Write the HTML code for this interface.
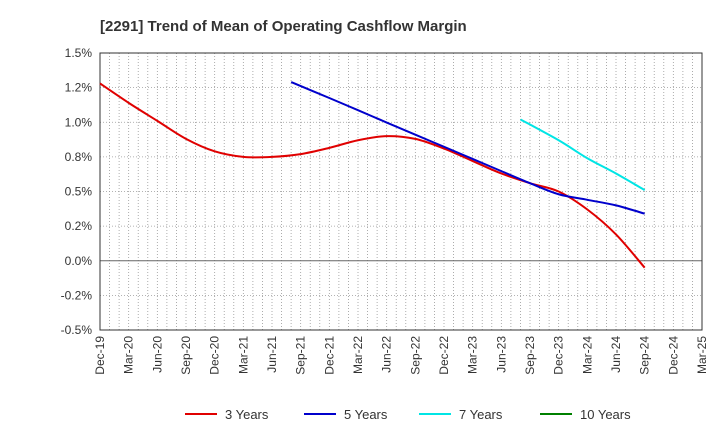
<!DOCTYPE html>
<html><head><meta charset="utf-8"><style>
body{margin:0;background:#fff;font-family:"Liberation Sans",sans-serif}
svg text{font-family:"Liberation Sans",sans-serif}
</style></head><body>
<svg id="c" width="720" height="440" xmlns="http://www.w3.org/2000/svg">
<text x="100" y="31" font-size="15" font-weight="bold" fill="#333">[2291]  Trend of Mean of Operating Cashflow Margin</text>
<g id="grid"></g><g id="axes"></g><g id="series"></g><g id="legend"></g>
</svg>
<script>
const xLabels=["Dec-19","Mar-20","Jun-20","Sep-20","Dec-20","Mar-21","Jun-21","Sep-21","Dec-21","Mar-22","Jun-22","Sep-22","Dec-22","Mar-23","Jun-23","Sep-23","Dec-23","Mar-24","Jun-24","Sep-24","Dec-24","Mar-25"];
const yTicks=[1.5,1.25,1.0,0.75,0.5,0.25,0,-0.25,-0.5];
const yTickLabels=["1.5%","1.2%","1.0%","0.8%","0.5%","0.2%","0.0%","-0.2%","-0.5%"];
const seriesNames=["3 Years","5 Years","7 Years","10 Years"];
const seriesColors=["#e00000","#0000cc","#00e5e5","#008000"];
const s3X=[0,1,2,3,4,5,6,7,8,9,10,11,12,13,14,15,16,17,18,19];
const s3=[1.28,1.14,1.01,0.88,0.79,0.75,0.75,0.77,0.815,0.87,0.90,0.88,0.81,0.72,0.63,0.56,0.50,0.37,0.19,-0.05];
const s5X=[6.67,8,9,10,11,12,13,14,15,16,17,18,19];
const s5=[1.29,1.175,1.087,0.998,0.91,0.823,0.735,0.647,0.56,0.48,0.44,0.40,0.34];
const s7X=[14.67,16,17,18,19];
const s7=[1.02,0.87,0.74,0.63,0.51];
const s10X=[];
const s10=[];
const L=100,R=702,T=53,B=330;
const X=i=>L+i*(R-L)/(xLabels.length-1);
const Y=v=>T+(1.5-v)*(B-T)/2.0;
const NS="http://www.w3.org/2000/svg";
function mk(tag,attrs,parent){const e=document.createElementNS(NS,tag);for(const k in attrs)e.setAttribute(k,attrs[k]);parent.appendChild(e);return e;}
const grid=document.getElementById('grid'),axes=document.getElementById('axes'),ser=document.getElementById('series'),leg=document.getElementById('legend');
for(let m=1;m<(xLabels.length-1)*3;m++){const x=L+m*(R-L)/((xLabels.length-1)*3);
const g=mk('line',{x1:x,x2:x,y1:T,y2:B,stroke:"#999","stroke-width":0.8,"stroke-dasharray":"1,2"},grid);
}
yTicks.forEach((v,i)=>{const y=Y(v);
const g=mk('line',{x1:L,x2:R,y1:y,y2:y,stroke:v===0?"#666":"#999","stroke-width":v===0?1:0.8,"stroke-dasharray":v===0?"":"1,2"},grid);

const t=mk('text',{x:L-8,y:y+4,"text-anchor":"end","font-size":12,fill:"#333"},axes);t.textContent=yTickLabels[i];
});
const fr=mk('rect',{x:L,y:T,width:R-L,height:B-T,fill:"none",stroke:"#333","stroke-width":1},axes);

xLabels.forEach((l,i)=>{const x=X(i);
const t=mk('text',{x:0,y:0,"text-anchor":"end","font-size":12,fill:"#333",transform:`translate(${x+4},${B+6}) rotate(-90)`},axes);t.textContent=l;
});
function smooth(pts){if(pts.length<2)return"";let d=`M${pts[0][0]},${pts[0][1]}`;
for(let i=0;i<pts.length-1;i++){const p0=pts[i-1]||pts[i],p1=pts[i],p2=pts[i+1],p3=pts[i+2]||p2;
d+=` C${p1[0]+(p2[0]-p0[0])/6},${p1[1]+(p2[1]-p0[1])/6} ${p2[0]-(p3[0]-p1[0])/6},${p2[1]-(p3[1]-p1[1])/6} ${p2[0]},${p2[1]}`;}return d;}
[[s3,s3X],[s5,s5X],[s7,s7X],[s10,s10X]].forEach(([arr,xs],k)=>{
const p=mk('path',{d:smooth(arr.map((v,i)=>[X(xs[i]),Y(v)])),fill:"none",stroke:seriesColors[k],"stroke-width":2},ser);
});
const lx=[185,304,419,540];
seriesNames.forEach((n,k)=>{
const g=mk('g',{},leg);
mk('line',{x1:lx[k],x2:lx[k]+32,y1:414,y2:414,stroke:seriesColors[k],"stroke-width":2},g);
const t=mk('text',{x:lx[k]+40,y:419,"font-size":13,fill:"#333"},g);t.textContent=n;});
</script>
</body></html>
